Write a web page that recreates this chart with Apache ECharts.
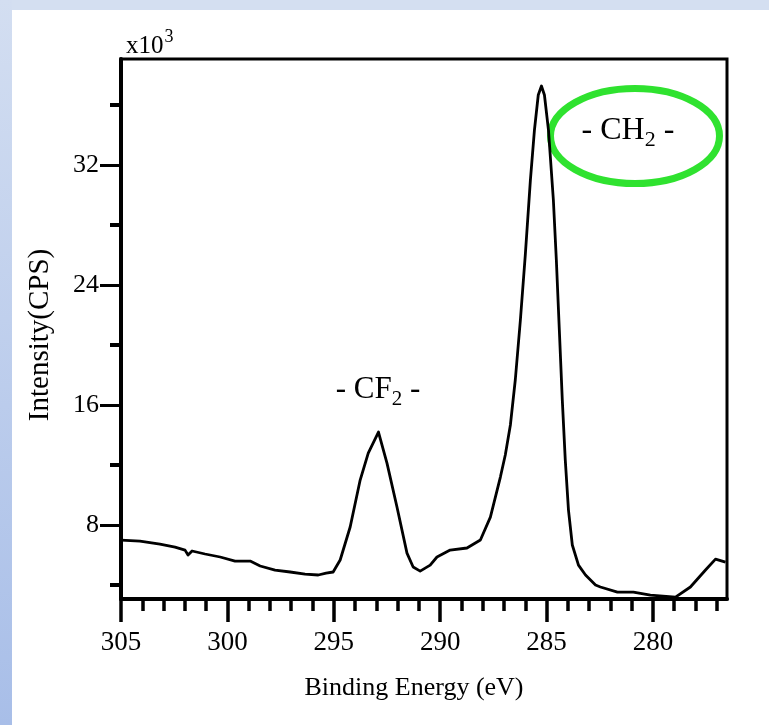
<!DOCTYPE html>
<html>
<head>
<meta charset="utf-8">
<script src="https://cdn.jsdelivr.net/npm/echarts@6/dist/echarts.min.js"></script>
<style>
html,body{margin:0;padding:0;background:#fff;}
#chart{width:769px;height:725px;}
</style>
</head>
<body>
<div id="chart"></div>
<script>
// Binding energy (eV) and intensity (x10^3 CPS)
const energy = [305.00,304.11,303.17,302.46,301.99,301.85,301.66,301.05,300.34,299.64,298.93,298.46,297.76,297.05,296.35,295.73,295.36,295.03,294.70,294.23,293.76,293.38,292.90,292.50,292.03,291.56,291.27,290.94,290.47,290.15,289.53,288.74,288.11,287.64,287.17,286.94,286.70,286.47,286.23,286.00,285.76,285.57,285.39,285.24,285.10,284.91,284.68,284.54,284.40,284.26,284.12,283.97,283.79,283.50,283.17,282.70,282.47,281.67,280.92,280.12,278.94,278.24,277.53,277.06,276.59];
const intensity = [7.00,6.93,6.73,6.53,6.33,6.00,6.27,6.07,5.87,5.60,5.60,5.27,5.00,4.87,4.73,4.67,4.80,4.87,5.67,7.87,11.00,12.80,14.20,12.13,9.20,6.13,5.20,4.93,5.33,5.87,6.33,6.47,7.00,8.53,11.20,12.67,14.67,17.67,21.67,26.00,31.00,34.33,36.67,37.27,36.67,34.33,29.67,25.67,21.00,16.33,12.33,9.00,6.67,5.33,4.67,4.00,3.87,3.53,3.53,3.33,3.20,3.87,5.00,5.73,5.53];
const xMajorTicks = [305,300,295,290,285,280];
const xMinorTicks = [304,303,302,301,299,298,297,296,294,293,292,291,289,288,287,286,284,283,282,281,279,278,277];
const yMajorTicks = [8,16,24,32];
const yMinorTicks = [4,12,20,28,36];
const xRange = [276.52, 305];
const yRange = [3.07, 39.07];

const serif = '"Liberation Serif", "DejaVu Serif", serif';
const chart = echarts.init(document.getElementById('chart'), null, {renderer:'canvas'});

const option = {
  backgroundColor: '#ffffff',
  animation: false,
  grid: {
    left: 121, right: 42, top: 59, bottom: 126,
    show: true, borderColor: '#000', borderWidth: 3,
    backgroundColor: 'transparent',
    containLabel: false, outerBoundsMode: 'none'
  },
  xAxis: [
    {
      type: 'value', inverse: true, min: xRange[0], max: xRange[1], position: 'bottom', offset: 0,
      axisLine: {show: true, onZero: false, lineStyle: {color: '#000', width: 4}},
      axisTick: {show: true, customValues: xMajorTicks, length: 23, lineStyle: {color: '#000', width: 3.5}},
      axisLabel: {show: true, customValues: xMajorTicks, margin: 30, fontFamily: serif, fontSize: 27, color: '#000'},
      splitLine: {show: false}
    },
    {
      type: 'value', inverse: true, min: xRange[0], max: xRange[1], position: 'bottom', offset: 0,
      axisLine: {show: false, onZero: false},
      axisTick: {show: true, customValues: xMinorTicks, length: 12, lineStyle: {color: '#000', width: 3.5}},
      axisLabel: {show: false},
      splitLine: {show: false}
    }
  ],
  yAxis: [
    {
      type: 'value', min: yRange[0], max: yRange[1], position: 'left', offset: 0,
      axisLine: {show: true, onZero: false, lineStyle: {color: '#000', width: 4}},
      axisTick: {show: true, customValues: yMajorTicks, length: 21, lineStyle: {color: '#000', width: 3}},
      axisLabel: {show: true, customValues: yMajorTicks, margin: 22, fontFamily: serif, fontSize: 26, color: '#000', padding: [0,0,16,0]},
      splitLine: {show: false}
    },
    {
      type: 'value', min: yRange[0], max: yRange[1], position: 'left', offset: 0,
      axisLine: {show: false, onZero: false},
      axisTick: {show: true, customValues: yMinorTicks, length: 11, lineStyle: {color: '#000', width: 4}},
      axisLabel: {show: false},
      splitLine: {show: false}
    }
  ],
  series: [{
    type: 'line',
    xAxisIndex: 0, yAxisIndex: 0,
    data: energy.map((e, i) => [e, intensity[i]]),
    showSymbol: false,
    smooth: false,
    lineStyle: {color: '#000', width: 2.8, join: 'round'},
    clip: true
  }],
  graphic: [
    {type: 'rect', silent: true, z: -10, shape: {x: 0, y: 0, width: 769, height: 10}, style: {fill: '#d4dff1'}},
    {type: 'rect', silent: true, z: -10, shape: {x: 0, y: 0, width: 12, height: 725},
      style: {fill: new echarts.graphic.LinearGradient(0, 0, 0, 1, [{offset: 0, color: '#d3def1'}, {offset: 1, color: '#a8bee8'}])}},
    {type: 'text', silent: true, x: 40, y: 335, rotation: Math.PI / 2,
      style: {text: 'Intensity(CPS)', fontFamily: serif, fontSize: 29, fill: '#000', align: 'center', verticalAlign: 'middle'}},
    {type: 'text', silent: true, x: 414, y: 688,
      style: {text: 'Binding Energy (eV)', fontFamily: serif, fontSize: 26, fill: '#000', align: 'center', verticalAlign: 'middle'}},
    {type: 'text', silent: true, x: 126, y: 46,
      style: {text: '{a|x10}{s|3}', align: 'left', verticalAlign: 'middle', fill: '#000',
        rich: {a: {fontFamily: serif, fontSize: 25, fill: '#000'},
               s: {fontFamily: serif, fontSize: 18, fill: '#000', padding: [0, 0, 18, 1]}}}},
    {type: 'text', silent: true, x: 378, y: 390,
      style: {text: '{a|- CF}{s|2}{a| -}', align: 'center', verticalAlign: 'middle', fill: '#000',
        rich: {a: {fontFamily: serif, fontSize: 31, fill: '#000'},
               s: {fontFamily: serif, fontSize: 21, fill: '#000', padding: [18, 0, 0, 0]}}}},
    {type: 'text', silent: true, x: 628, y: 131,
      style: {text: '{a|- CH}{s|2}{a| -}', align: 'center', verticalAlign: 'middle', fill: '#000',
        rich: {a: {fontFamily: serif, fontSize: 32, fill: '#000'},
               s: {fontFamily: serif, fontSize: 22, fill: '#000', padding: [18, 0, 0, 0]}}}},
    {type: 'ellipse', silent: true, shape: {cx: 635, cy: 136, rx: 84.5, ry: 47.5},
      style: {fill: 'none', stroke: '#2fe22f', lineWidth: 7}}
  ]
};
chart.setOption(option);
</script>
</body>
</html>
